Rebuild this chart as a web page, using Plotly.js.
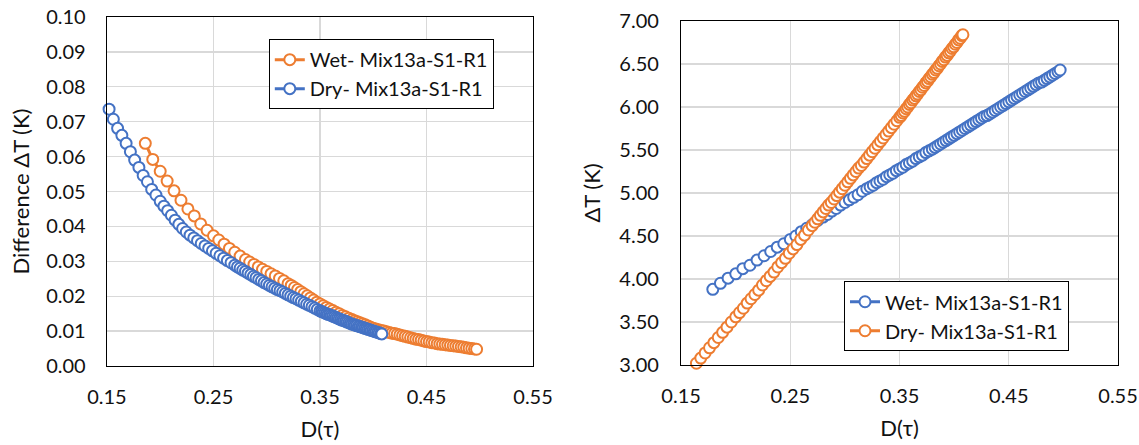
<!DOCTYPE html>
<html><head><meta charset="utf-8">
<script src="https://cdn.plot.ly/plotly-3.0.1.min.js"></script>
<style>html,body{margin:0;padding:0;background:#fff}#chart{width:1139px;height:445px}</style>
</head><body><div id="chart"></div>
<script>
// ---- data ----
const seriesNames = ["Wet- Mix13a-S1-R1", "Dry- Mix13a-S1-R1"];
const xTicks = [0.15, 0.25, 0.35, 0.45, 0.55];

// Wet sample: D(tau)
const wetX = [0.179,0.186,0.193,0.200,0.2065,0.213,0.2195,0.226,0.232,0.238,0.244,0.250,
0.255,0.260,0.265,0.270,0.275,0.280,
0.284,0.288,0.292,0.296,0.300,0.304,0.308,0.312,0.316,0.320,
0.323,0.326,0.329,0.332,0.335,0.338,0.341,0.344,0.347,0.350,0.353,0.356,0.359,0.362,0.365,0.368,0.371,0.374,0.377,0.380,
0.3825,0.385,0.3875,0.390,0.3925,0.395,0.3975,0.400,0.4025,0.405,0.4075,0.410,0.4125,0.415,0.4175,0.420,0.4225,0.425,0.4275,0.430,0.4325,0.435,0.4375,0.440,0.4425,0.445,0.4475,0.450,0.4525,0.455,0.4575,0.460,0.4625,0.465,0.4675,0.470,0.4725,0.475,0.4775,0.480,0.4825,0.485,0.4875,0.490,0.4925,0.495,0.497];
// Wet sample: difference dT (left chart)
const wetDiff = [null,0.0638,0.0592,0.0558,0.0530,0.0502,0.0475,0.0450,0.0430,0.0407,0.0389,0.0373,
0.0361,0.0349,0.0337,0.0326,0.0315,0.0305,
0.0298,0.0291,0.0284,0.0277,0.0271,0.0264,0.0258,0.0251,0.0244,0.0236,
0.0231,0.0225,0.0219,0.0213,0.0207,0.0201,0.0195,0.0189,0.0183,0.0178,0.0173,0.0168,0.0163,0.0159,0.0154,0.0150,0.0145,0.0141,0.0137,0.0133,
0.0130,0.0127,0.0124,0.0121,0.0118,0.0115,0.0111,0.0108,0.0106,0.0104,0.0102,0.0100,0.0098,0.0096,0.0094,0.0093,0.0091,0.0089,0.0087,0.0085,0.0083,0.0081,0.0079,0.0077,0.0076,0.0074,0.0072,0.0070,0.0069,0.0067,0.0066,0.0064,0.0063,0.0062,0.0061,0.0060,0.0059,0.0058,0.0057,0.0056,0.0055,0.0054,0.0052,0.0051,0.0050,0.0049,0.0048];
// Wet sample: dT (right chart)
const wetDT = [3.88,3.95,4.01,4.06,4.12,4.16,4.22,4.27,4.32,4.37,4.41,4.46,
4.50,4.55,4.59,4.63,4.68,4.72,
4.75,4.79,4.82,4.86,4.89,4.92,4.95,4.98,5.02,5.05,
5.07,5.09,5.12,5.14,5.16,5.19,5.21,5.23,5.26,5.28,5.30,5.33,5.35,5.37,5.40,5.42,5.44,5.47,5.49,5.51,
5.53,5.55,5.57,5.59,5.61,5.63,5.65,5.67,5.69,5.71,5.73,5.75,5.77,5.79,5.81,5.83,5.85,5.87,5.89,5.90,5.92,5.94,5.96,5.98,6.00,6.02,6.04,6.06,6.08,6.10,6.12,6.14,6.16,6.18,6.20,6.22,6.24,6.26,6.28,6.29,6.31,6.33,6.35,6.37,6.39,6.41,6.43];

// Dry sample: D(tau)
const dryX = [0.152,0.156,0.160,0.164,0.168,0.172,0.176,0.180,0.184,0.188,0.192,0.196,0.200,
0.2035,0.207,0.2105,0.214,0.2175,0.221,0.2245,0.228,0.2315,0.235,0.2385,0.242,0.2455,0.249,0.2525,0.256,0.2595,0.263,0.2665,0.270,
0.2725,0.275,0.2775,0.280,0.2825,0.285,0.2875,0.290,0.2925,0.295,0.2975,0.300,0.3025,0.305,0.3075,0.310,0.3125,0.315,0.3175,0.320,0.3225,0.325,0.3275,0.330,0.3325,0.335,0.3375,0.340,0.3425,0.345,0.3475,0.350,
0.3515,0.353,0.3545,0.356,0.3575,0.359,0.3605,0.362,0.3635,0.365,0.3665,0.368,0.3695,0.371,0.3725,0.374,0.3755,0.377,0.3785,0.380,0.3815,0.383,0.3845,0.386,0.3875,0.389,0.3905,0.392,0.3935,0.395,0.3965,0.398,0.3995,0.401,0.4025,0.404,0.4055,0.407,0.408];
// Dry sample: difference dT (left chart)
const dryDiff = [0.0736,0.0707,0.0681,0.0661,0.0638,0.0614,0.0590,0.0569,0.0546,0.0528,0.0506,0.0490,0.0472,
0.0458,0.0445,0.0432,0.0418,0.0406,0.0394,0.0384,0.0375,0.0367,0.0359,0.0351,0.0344,0.0337,0.0330,0.0323,0.0316,0.0309,0.0302,0.0296,0.0289,
0.0284,0.0280,0.0275,0.0271,0.0266,0.0262,0.0257,0.0253,0.0248,0.0244,0.0239,0.0235,0.0231,0.0227,0.0223,0.0219,0.0216,0.0212,0.0208,0.0204,0.0200,0.0196,0.0193,0.0189,0.0185,0.0181,0.0177,0.0174,0.0170,0.0166,0.0162,0.0158,
0.0156,0.0154,0.0152,0.0150,0.0148,0.0147,0.0145,0.0143,0.0141,0.0139,0.0137,0.0135,0.0133,0.0131,0.0130,0.0128,0.0126,0.0124,0.0122,0.0120,0.0119,0.0117,0.0116,0.0114,0.0113,0.0111,0.0110,0.0108,0.0107,0.0105,0.0104,0.0102,0.0101,0.0099,0.0098,0.0096,0.0095,0.0093,0.0092];
// Dry sample: dT (right chart)
const dryDT = [null,null,null,3.02,3.08,3.14,3.20,3.26,3.32,3.38,3.44,3.50,3.56,
3.61,3.66,3.72,3.77,3.82,3.87,3.93,3.98,4.03,4.08,4.14,4.19,4.24,4.30,4.35,4.40,4.46,4.51,4.57,4.62,
4.66,4.70,4.74,4.78,4.82,4.86,4.89,4.93,4.97,5.01,5.05,5.09,5.13,5.17,5.21,5.25,5.29,5.32,5.36,5.40,5.44,5.48,5.52,5.56,5.60,5.64,5.68,5.72,5.76,5.80,5.84,5.88,
5.90,5.93,5.95,5.98,6.00,6.03,6.05,6.08,6.10,6.13,6.15,6.18,6.20,6.23,6.25,6.28,6.30,6.33,6.35,6.38,6.40,6.43,6.45,6.48,6.50,6.53,6.55,6.58,6.60,6.63,6.65,6.68,6.70,6.73,6.75,6.78,6.80,6.83,6.84];

// ---- styling ----
const ORANGE = '#ED7D31', BLUE = '#4472C4';
const FONT = "Lato, 'Open Sans', 'DejaVu Sans', sans-serif";
const TXT = '#111111';

function tr(x, y, name, color, xa, ya, legend) {
  return {x: x, y: y, name: name, type: 'scatter', mode: 'lines+markers',
    xaxis: xa, yaxis: ya, legend: legend, cliponaxis: false,
    line: {color: color, width: 3},
    marker: {symbol: 'circle', size: 11, color: '#ffffff', line: {color: color, width: 2}}};
}

const data = [
  tr(wetX, wetDiff, seriesNames[0], ORANGE, 'x', 'y', 'legend'),
  tr(dryX, dryDiff, seriesNames[1], BLUE, 'x', 'y', 'legend'),
  tr(wetX, wetDT, seriesNames[0], BLUE, 'x2', 'y2', 'legend2'),
  tr(dryX, dryDT, seriesNames[1], ORANGE, 'x2', 'y2', 'legend2')
];

function ax(extra) {
  return Object.assign({
    showline: true, mirror: true, linecolor: '#000', linewidth: 1.25,
    showgrid: true, gridcolor: '#d9d9d9', gridwidth: 1.25, zeroline: false,
    ticks: '', tickfont: {family: FONT, size: 20, color: TXT}
  }, extra);
}
const titleFont = {family: FONT, size: 22, color: TXT};
const legendBase = {xanchor: 'left', yanchor: 'top', bgcolor: '#ffffff', bordercolor: '#000',
  borderwidth: 1, font: {family: FONT, size: 20, color: TXT}, tracegroupgap: 0, traceorder: 'normal'};

const layout = {
  width: 1139, height: 445,
  margin: {l: 0, r: 0, t: 0, b: 0},
  paper_bgcolor: '#ffffff', plot_bgcolor: '#ffffff',
  showlegend: true,
  xaxis: ax({domain: [0.0939, 0.468], anchor: 'y', range: [0.15, 0.55], tickvals: xTicks, tickformat: '.2f',
    ticklabelstandoff: 13, title: {text: 'D(τ)', font: titleFont, standoff: 14}}),
  yaxis: ax({domain: [0.1775, 0.9618], anchor: 'x', range: [0, 0.10], dtick: 0.01, tick0: 0, tickformat: '.2f',
    ticklabelstandoff: 16, title: {text: 'Difference ΔT (K)', font: titleFont, standoff: 10}}),
  xaxis2: ax({domain: [0.598, 0.9816], anchor: 'y2', range: [0.15, 0.55], tickvals: xTicks, tickformat: '.2f',
    ticklabelstandoff: 13, title: {text: 'D(τ)', font: titleFont, standoff: 14}}),
  yaxis2: ax({domain: [0.1798, 0.9528], anchor: 'x2', range: [3, 7], dtick: 0.5, tick0: 3, tickformat: '.2f',
    ticklabelstandoff: 17, title: {text: 'ΔT (K)', font: titleFont, standoff: 12}}),
  legend: Object.assign({x: 0.236, y: 0.912}, legendBase),
  legend2: Object.assign({x: 0.741, y: 0.368}, legendBase)
};

Plotly.newPlot('chart', data, layout, {displayModeBar: false, staticPlot: true});
</script>
</body></html>
